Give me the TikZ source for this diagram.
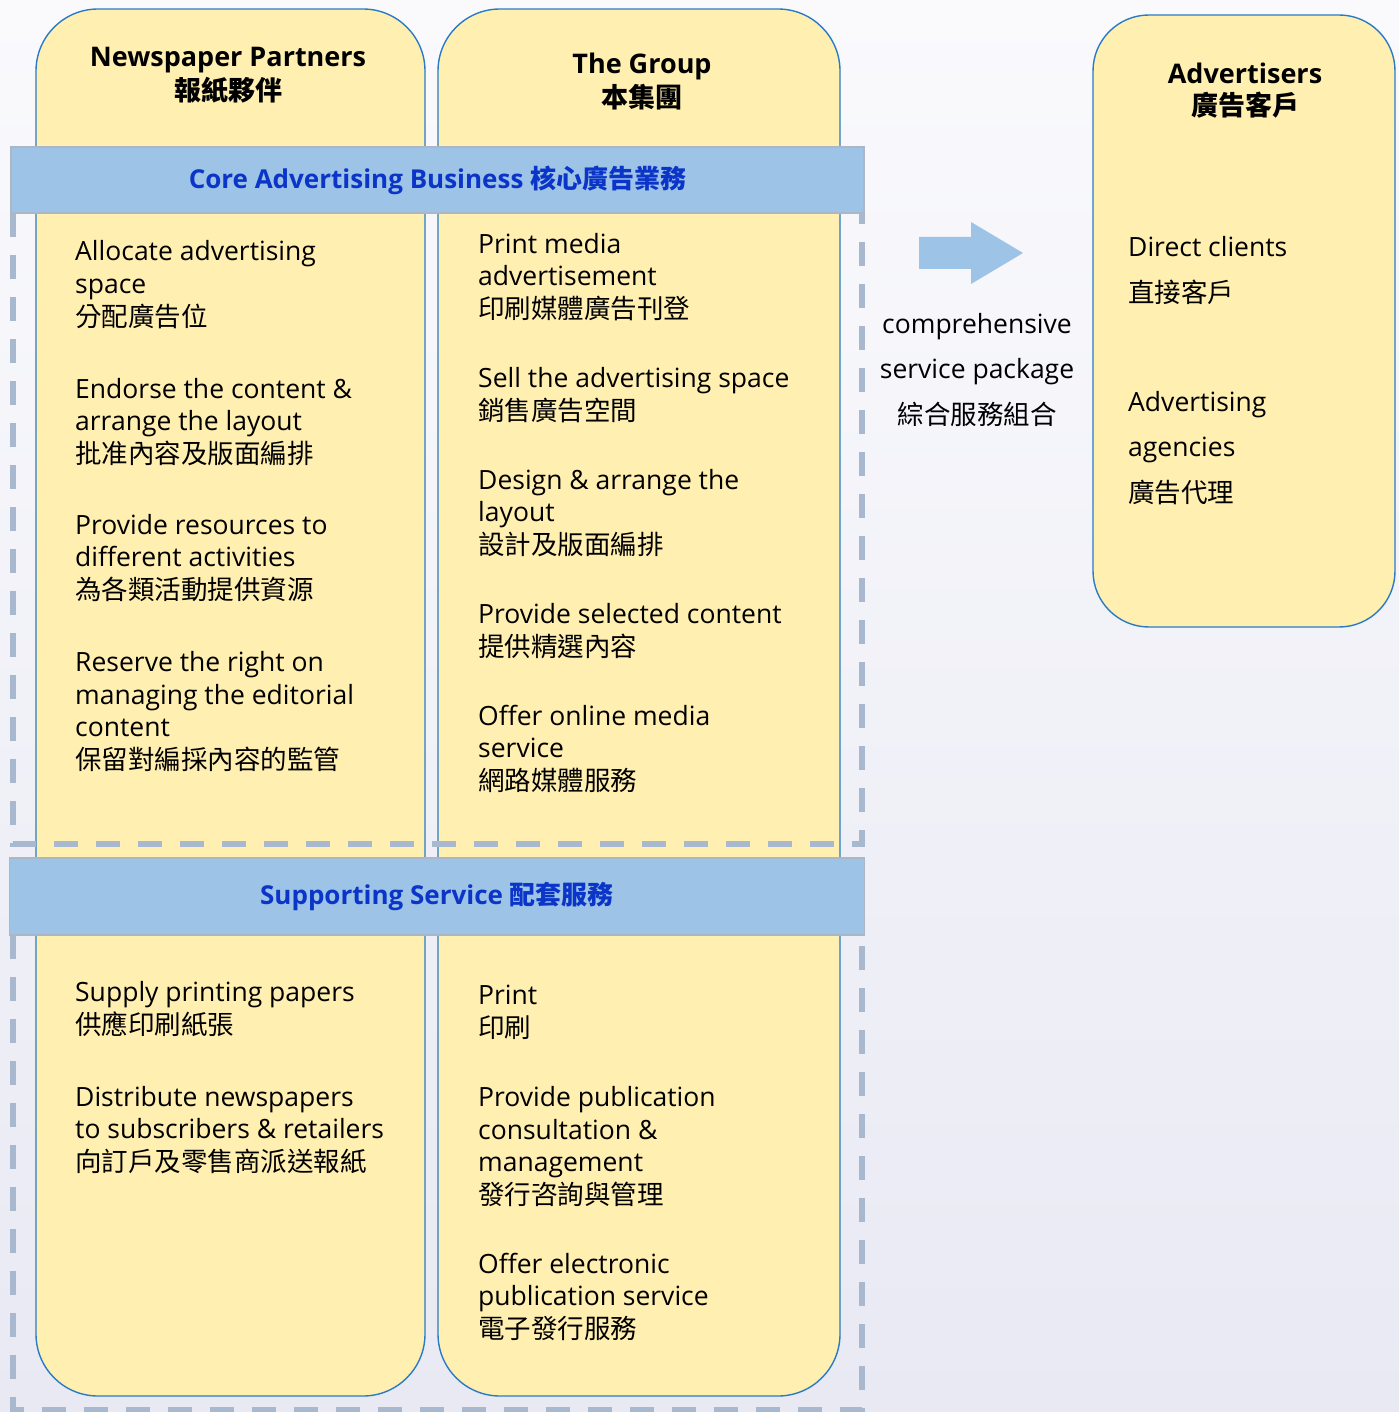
\documentclass[tikz,border=0pt]{standalone}
\usepackage{fontspec}
\setmainfont{Open Sans}
\newfontfamily\cjk{Noto Sans CJK TC}
\usepackage{tikz}

\definecolor{colfill}{HTML}{FFEFB0}
\definecolor{colline}{HTML}{2A7BC6}
\definecolor{bandfill}{HTML}{9DC3E6}
\definecolor{bandline}{HTML}{ABB6C6}
\definecolor{dashline}{HTML}{A8B8CE}
\definecolor{bandtext}{HTML}{0A35C8}
\definecolor{bgtop}{HTML}{FAFAFD}
\definecolor{bgbottom}{HTML}{E8E9F3}

\newcommand{\itemfont}{\fontsize{26.5}{32.5}\selectfont}
\newcommand{\headfont}{\fontsize{27}{34}\selectfont\bfseries}

\begin{document}
\begin{tikzpicture}[x=1pt,y=1pt,yscale=-1,
  col/.style={draw=colline,line width=1.4pt,fill=colfill,rounded corners=62pt},
  dashbox/.style={draw=dashline,line width=5.5pt,dash pattern=on 24pt off 18pt},
  band/.style={draw=bandline,line width=1.8pt,fill=bandfill,inner sep=0pt,
    text=bandtext,font=\fontsize{26}{30}\selectfont\bfseries},
  item/.style={anchor=base west,inner sep=0pt,align=left,font=\itemfont},
  head/.style={anchor=base,inner sep=0pt,align=center,font=\headfont}]
\useasboundingbox (0,0) rectangle (1399,1412);

%Background
\shade[top color=bgtop,bottom color=bgbottom] (0,0) rectangle (1399,1412);

%Columns
\draw[col] (36,9) rectangle (425,1396);
\draw[col] (438,9) rectangle (840,1396);
\draw[col,rounded corners=56pt] (1093,15) rectangle (1395,627);

%Dashed frames
\draw[dashbox] (13,213) -- (13,844) -- (862,844) -- (862,213);
\draw[dashbox] (13,935) -- (13,1410) -- (862,1410) -- (862,935);

%Bands
\node (core) [band,minimum width=853,minimum height=66] at (437.5,180) {Core Advertising Business {\cjk 核心廣告業務}};
\node (support) [band,minimum width=855,minimum height=77] at (437,896.5) {Supporting Service {\cjk 配套服務}};

%Arrow
\fill[bandfill] (919,237) -- (971,237) -- (971,222) -- (1023,253) -- (971,284) -- (971,269) -- (919,269) -- cycle;

% Text Node (base = last line)
\node (partners) [head] at (228,101) {Newspaper Partners\\{\cjk 報紙夥伴}};
% Text Node
\node (group) [head] at (642,108) {The Group\\{\cjk 本集團}};
% Text Node
\node (advertisers) [head,font=\fontsize{27}{32}\selectfont\bfseries] at (1245,116) {Advertisers\\{\cjk 廣告客戶}};

% Text Node
\node (allocate) [item] at (75,326) {Allocate advertising\\space\\{\cjk 分配廣告位}};
% Text Node
\node (endorse) [item] at (75,463) {Endorse the content \&\\arrange the layout\\{\cjk 批准內容及版面編排}};
% Text Node
\node (resources) [item] at (75,599) {Provide resources to\\different activities\\{\cjk 為各類活動提供資源}};
% Text Node
\node (reserve) [item] at (75,769) {Reserve the right on\\managing the editorial\\content\\{\cjk 保留對編採內容的監管}};
% Text Node
\node (papers) [item] at (75,1034) {Supply printing papers\\{\cjk 供應印刷紙張}};
% Text Node
\node (distribute) [item] at (75,1171) {Distribute newspapers\\to subscribers \& retailers\\{\cjk 向訂戶及零售商派送報紙}};

% Text Node
\node (printad) [item] at (478,318) {Print media\\advertisement\\{\cjk 印刷媒體廣告刊登}};
% Text Node
\node (sell) [item] at (478,420) {Sell the advertising space\\{\cjk 銷售廣告空間}};
% Text Node
\node (design) [item] at (478,554) {Design \& arrange the\\layout\\{\cjk 設計及版面編排}};
% Text Node
\node (selected) [item] at (478,656) {Provide selected content\\{\cjk 提供精選內容}};
% Text Node
\node (online) [item] at (478,790) {Offer online media\\service\\{\cjk 網路媒體服務}};
% Text Node
\node (print) [item] at (478,1037) {Print\\{\cjk 印刷}};
% Text Node
\node (consult) [item] at (478,1204) {Provide publication\\consultation \&\\management\\{\cjk 發行咨詢與管理}};
% Text Node
\node (epub) [item] at (478,1338) {Offer electronic\\publication service\\{\cjk 電子發行服務}};

% Text Node
\node (package) [anchor=base,inner sep=0pt,align=center,font=\fontsize{26.5}{45.5}\selectfont] at (977,424) {comprehensive\\service package\\{\cjk 綜合服務組合}};

% Text Node
\node (direct) [item,font=\fontsize{26.5}{46}\selectfont] at (1128,302) {Direct clients\\{\cjk 直接客戶}};
% Text Node
\node (agencies) [item,font=\fontsize{26.5}{45.5}\selectfont] at (1128,502) {Advertising\\agencies\\{\cjk 廣告代理}};

\end{tikzpicture}
\end{document}
